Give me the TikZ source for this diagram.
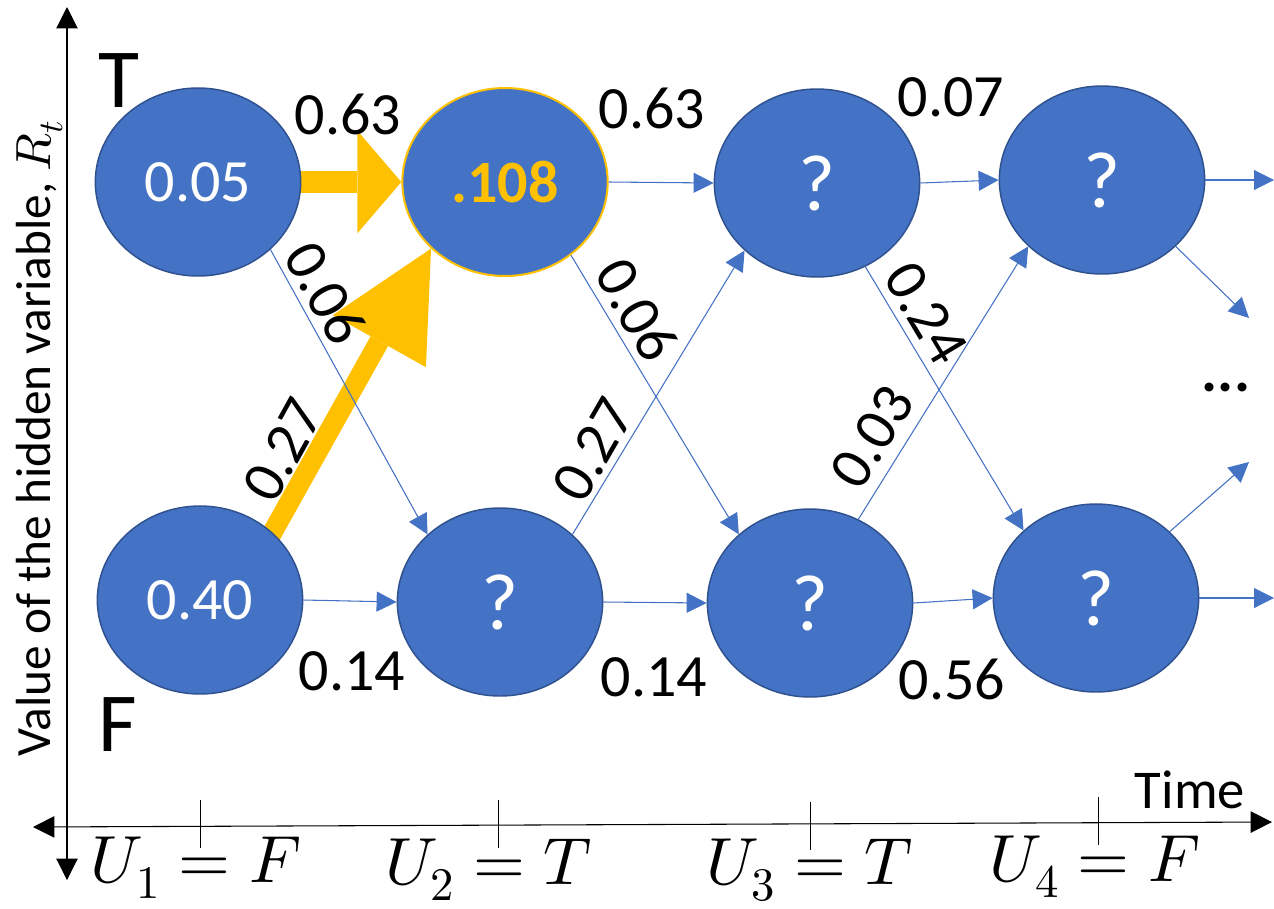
\documentclass[tikz,border=0pt]{standalone}
\usepackage{fontspec}
\usepackage{unicode-math}
\setmainfont{Carlito}
\setmathfont{Latin Modern Math}
\usetikzlibrary{arrows.meta,shapes.geometric}
\pgfdeclarelayer{background}
\pgfsetlayers{background,main}
\definecolor{nodeblue}{HTML}{4472C4}
\definecolor{borderblue}{HTML}{2F528F}
\definecolor{gold}{HTML}{FFC000}
\begin{document}
\begin{tikzpicture}[x=0.75pt,y=-0.75pt,
  state/.style={ellipse, fill=nodeblue, draw=borderblue, line width=1.1pt,
    minimum width=154pt, minimum height=141pt, inner sep=0pt, text=white,
    font=\fontsize{45}{54}\selectfont},
  qmark/.style={font=\fontsize{60}{66}\selectfont},
  prob/.style={inner sep=0pt, font=\fontsize{45}{54}\selectfont},
  trans/.style={draw=nodeblue, line width=0.8pt, -{Triangle[length=15pt,width=15pt]}},
  axisline/.style={draw=black, line width=0.8pt},
  axtip/.style={>={Triangle[length=16pt,width=16pt]}},
  ulab/.style={inner sep=0pt, anchor=base, font=\fontsize{50}{58}\selectfont},
]
\useasboundingbox (0,0) rectangle (1274,908);

% axes
\coordinate (ytop) at (67,7);
\coordinate (ybot) at (67,880);
\coordinate (xleft) at (33,827);
\coordinate (xright) at (1272,822);
\draw[axisline, axtip, <->] (ybot) -- (ytop);
\draw[axisline, axtip, <->] (xleft) -- (xright);
\draw[axisline, line width=0.6pt] (200,800) -- (200,848);
\draw[axisline, line width=0.6pt] (498,800) -- (498,848);
\draw[axisline, line width=0.6pt] (810,802) -- (810,850);
\draw[axisline, line width=0.6pt] (1098,797) -- (1098,845);

\node[rotate=90, anchor=base west, inner sep=0pt, font=\fontsize{37}{44}\selectfont]
  (ylabel) at (50,757) {Value of the hidden variable, $R_t$};
\node[anchor=base, inner sep=0pt, font=\fontsize{41}{48}\selectfont] (time) at (1190,808) {Time};

\node[ulab] (u1) at (196,882) {$U_1=F$};
\node[ulab] (u2) at (489,884) {$U_2=T$};
\node[ulab] (u3) at (810,884) {$U_3=T$};
\node[ulab] (u4) at (1095,881) {$U_4=F$};

% row labels
\node[anchor=base, inner sep=0pt, font=\fontsize{63}{70}\selectfont] (Tlab) at (119,107) {T};
\node[anchor=base, inner sep=0pt, font=\fontsize{63}{70}\selectfont] (Flab) at (118,751) {F};

% states
\node[state] (T1) at (198,182) {0.05};
\node[state, draw=gold, line width=1.5pt, text=gold, font=\fontsize{45}{54}\selectfont\bfseries] (T2) at (505,182) {.108};
\node[state, qmark] (T3) at (817,183) {?};
\node[state, qmark] (T4) at (1102,180) {?};
\node[state] (F1) at (200,600) {0.40};
\node[state, qmark] (F2) at (500,602) {?};
\node[state, qmark] (F3) at (810,603) {?};
\node[state, qmark] (F4) at (1096,598) {?};

% highlighted transitions
\begin{pgfonlayer}{background}
\draw[gold, line width=16.5pt, shorten <=-6pt,
  -{Triangle[length=33pt,width=77pt,line width=0pt]}] (T1.east) -- (T2.west);
\draw[gold, line width=15pt, shorten <=-12pt,
  -{Triangle[length=79.5pt,width=80pt,line width=0pt]}] (F1.43) -- (T2.222);
\end{pgfonlayer}

% transitions
\draw[trans] (T2.east) -- (T3.west);
\draw[trans] (T3.east) -- (T4.west);
\draw[trans] (F1.east) -- (F2.west);
\draw[trans] (F2.east) -- (F3.west);
\draw[trans] (F3.east) -- (F4.west);
\draw[trans] (T1.-43) -- (F2.137);
\draw[trans] (T2.-48) -- (F3.136);
\draw[trans] (F2.43) -- (T3.223);
\draw[trans] (T3.-60) -- (F4.137);
\draw[trans] (F3.60) -- (T4.222);

\coordinate (oT) at (1274,180);
\coordinate (oTd) at (1249,318);
\coordinate (oFu) at (1249,462);
\coordinate (oF) at (1274,598);
\draw[trans] (T4.east) -- (oT);
\draw[trans] (T4.-42) -- (oTd);
\draw[trans] (F4.42) -- (oFu);
\draw[trans] (F4.east) -- (oF);

% probabilities
\node[prob] (p63a) at (348,114) {0.63};
\node[prob] (p63b) at (652,108) {0.63};
\node[prob] (p07) at (951,97) {0.07};
\node[prob] (p14a) at (352,671) {0.14};
\node[prob] (p14b) at (654,677) {0.14};
\node[prob] (p56) at (952,679) {0.56};
\node[prob, rotate=-61] (p06a) at (326,293) {0.06};
\node[prob, rotate=61] (p27a) at (283,450) {0.27};
\node[prob, rotate=-60] (p06b) at (637,310) {0.06};
\node[prob, rotate=60] (p27b) at (593,450) {0.27};
\node[prob, rotate=-59] (p24) at (926,313) {0.24};
\node[prob, rotate=58] (p03) at (872,437) {0.03};
\node[prob, font=\fontsize{45}{54}\selectfont\bfseries] (dots) at (1226,387) {...};
\end{tikzpicture}
\end{document}
